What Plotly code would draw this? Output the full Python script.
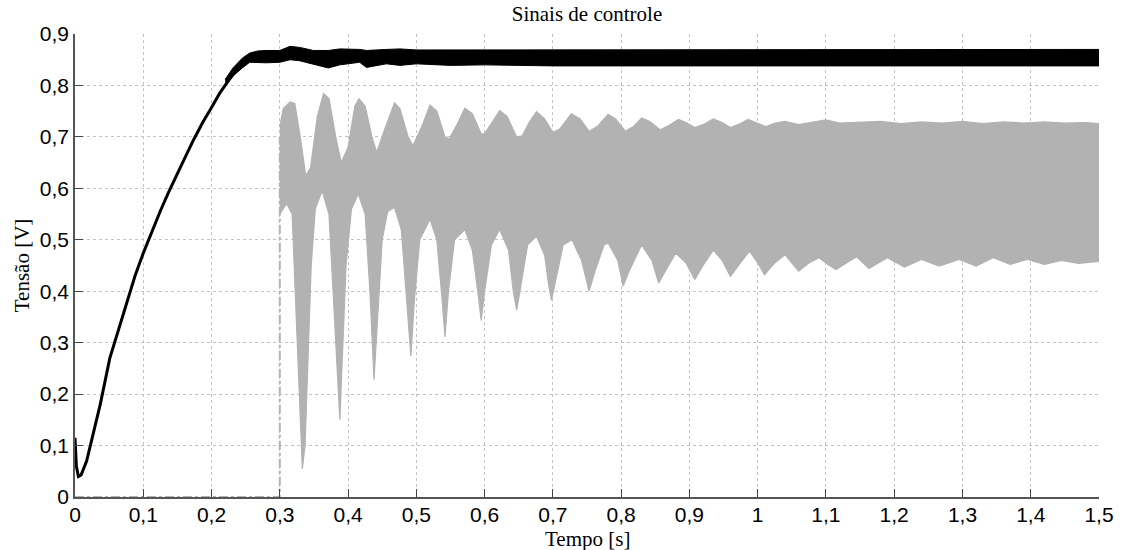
import plotly.graph_objects as go

# ---------------- data ----------------
# black control signal: initial rise (thin line)
t_black_rise = [0.0, 0.002, 0.005, 0.009, 0.017, 0.027, 0.037, 0.051, 0.064, 0.076, 0.088, 0.100,
                0.113, 0.125, 0.137, 0.149, 0.162, 0.174, 0.187, 0.200, 0.212, 0.223, 0.233, 0.242]
y_black_rise = [0.115, 0.06, 0.040, 0.043, 0.070, 0.125, 0.180, 0.270, 0.325, 0.380, 0.430, 0.474,
                0.518, 0.556, 0.592, 0.627, 0.662, 0.695, 0.728, 0.757, 0.785, 0.806, 0.824, 0.836]

# black control signal: high-frequency band (upper / lower envelope)
t_black_band = [0.220, 0.232, 0.245, 0.256, 0.268, 0.280, 0.300, 0.315, 0.329, 0.349, 0.371, 0.388,
                0.417, 0.427, 0.456, 0.476, 0.500, 0.550, 0.600, 0.700, 0.800, 0.900, 1.000,
                1.100, 1.200, 1.300, 1.400, 1.500]
y_black_up = [0.812, 0.835, 0.853, 0.863, 0.867, 0.868, 0.868, 0.876, 0.874, 0.868, 0.868, 0.871,
              0.870, 0.868, 0.870, 0.871, 0.869, 0.869, 0.870, 0.870, 0.870, 0.870, 0.870,
              0.870, 0.870, 0.870, 0.870, 0.870]
y_black_lo = [0.800, 0.819, 0.834, 0.845, 0.845, 0.844, 0.845, 0.850, 0.848, 0.842, 0.834, 0.840,
              0.845, 0.835, 0.842, 0.839, 0.842, 0.839, 0.840, 0.838, 0.838, 0.838, 0.838,
              0.838, 0.838, 0.838, 0.838, 0.838]

# grey control signal: zero before the switch-on, then a jump
t_grey_pre = [0.0, 0.300, 0.300]
y_grey_pre = [0.0, 0.0, 0.70]

# grey control signal: high-frequency band, upper envelope
t_grey_up = [0.300, 0.305, 0.315, 0.322, 0.330, 0.338, 0.345, 0.355, 0.364, 0.372, 0.382, 0.390,
             0.400, 0.410, 0.416, 0.425, 0.435, 0.442, 0.455, 0.468, 0.476, 0.488, 0.495, 0.508,
             0.520, 0.530, 0.542, 0.548, 0.560, 0.571, 0.582, 0.595, 0.600, 0.612, 0.622, 0.633,
             0.647, 0.655, 0.666, 0.676, 0.688, 0.700, 0.710, 0.727, 0.740, 0.753, 0.765, 0.781,
             0.792, 0.806, 0.818, 0.830, 0.842, 0.857, 0.870, 0.884, 0.895, 0.908, 0.922, 0.935,
             0.948, 0.960, 0.975, 0.986, 1.000, 1.012, 1.026, 1.040, 1.060, 1.080, 1.100, 1.120,
             1.150, 1.180, 1.210, 1.240, 1.270, 1.300, 1.330, 1.360, 1.390, 1.420, 1.450, 1.480, 1.500]
y_grey_up = [0.720, 0.755, 0.768, 0.765, 0.700, 0.625, 0.640, 0.740, 0.784, 0.775, 0.700, 0.650,
             0.680, 0.760, 0.774, 0.760, 0.700, 0.670, 0.720, 0.766, 0.755, 0.700, 0.683, 0.720,
             0.762, 0.750, 0.700, 0.696, 0.725, 0.756, 0.745, 0.706, 0.706, 0.730, 0.751, 0.740,
             0.700, 0.702, 0.730, 0.749, 0.735, 0.709, 0.715, 0.745, 0.735, 0.711, 0.720, 0.744,
             0.735, 0.711, 0.720, 0.737, 0.730, 0.714, 0.722, 0.734, 0.728, 0.718, 0.725, 0.735,
             0.728, 0.718, 0.726, 0.734, 0.726, 0.720, 0.727, 0.730, 0.724, 0.728, 0.733, 0.727,
             0.728, 0.730, 0.726, 0.729, 0.727, 0.730, 0.726, 0.729, 0.727, 0.729, 0.727, 0.728, 0.726]

# grey control signal: high-frequency band, lower envelope
t_grey_lo = [0.300, 0.310, 0.318, 0.322, 0.328, 0.333, 0.337, 0.342, 0.346, 0.352, 0.362, 0.372,
             0.378, 0.384, 0.388, 0.392, 0.397, 0.405, 0.415, 0.425, 0.432, 0.438, 0.443, 0.450,
             0.458, 0.468, 0.478, 0.486, 0.492, 0.497, 0.505, 0.520, 0.530, 0.538, 0.542, 0.547,
             0.556, 0.571, 0.582, 0.590, 0.595, 0.600, 0.610, 0.622, 0.635, 0.642, 0.647, 0.653,
             0.663, 0.676, 0.688, 0.694, 0.698, 0.704, 0.715, 0.728, 0.742, 0.753, 0.762, 0.775,
             0.781, 0.795, 0.803, 0.812, 0.830, 0.845, 0.855, 0.865, 0.880, 0.895, 0.908, 0.920,
             0.935, 0.948, 0.960, 0.972, 0.988, 1.000, 1.010, 1.025, 1.040, 1.050, 1.060, 1.075,
             1.090, 1.105, 1.115, 1.130, 1.145, 1.163, 1.190, 1.215, 1.240, 1.266, 1.295, 1.320,
             1.345, 1.370, 1.395, 1.420, 1.445, 1.470, 1.500]
y_grey_lo = [0.550, 0.570, 0.550, 0.400, 0.220, 0.055, 0.100, 0.300, 0.450, 0.560, 0.595, 0.550,
             0.400, 0.250, 0.150, 0.300, 0.450, 0.560, 0.589, 0.550, 0.400, 0.228, 0.350, 0.500,
             0.555, 0.563, 0.520, 0.380, 0.274, 0.380, 0.500, 0.540, 0.500, 0.380, 0.311, 0.400,
             0.500, 0.520, 0.480, 0.400, 0.343, 0.400, 0.490, 0.520, 0.480, 0.400, 0.363, 0.410,
             0.490, 0.507, 0.470, 0.410, 0.382, 0.420, 0.490, 0.500, 0.460, 0.400, 0.440, 0.490,
             0.494, 0.460, 0.410, 0.440, 0.490, 0.460, 0.416, 0.440, 0.474, 0.455, 0.423, 0.450,
             0.480, 0.460, 0.429, 0.450, 0.478, 0.455, 0.432, 0.455, 0.471, 0.455, 0.439, 0.455,
             0.465, 0.450, 0.442, 0.455, 0.467, 0.444, 0.465, 0.447, 0.462, 0.449, 0.462, 0.449,
             0.465, 0.452, 0.462, 0.452, 0.460, 0.454, 0.458]

# axes ticks
x_tickvals = [0.0, 0.1, 0.2, 0.3, 0.4, 0.5, 0.6, 0.7, 0.8, 0.9, 1.0, 1.1, 1.2, 1.3, 1.4, 1.5]
x_ticktext = ["0", "0,1", "0,2", "0,3", "0,4", "0,5", "0,6", "0,7", "0,8", "0,9",
              "1", "1,1", "1,2", "1,3", "1,4", "1,5"]
y_tickvals = [0.0, 0.1, 0.2, 0.3, 0.4, 0.5, 0.6, 0.7, 0.8, 0.9]
y_ticktext = ["0", "0,1", "0,2", "0,3", "0,4", "0,5", "0,6", "0,7", "0,8", "0,9"]

title_text = "Sinais de controle"
x_title = "Tempo [s]"
y_title = "Tensão [V]"

# ---------------- figure ----------------
GREY = "#b2b2b2"
SERIF = "Liberation Serif, Times New Roman, serif"
SANS = "Liberation Sans, Arial, sans-serif"
fig = go.Figure()

# grey band (polygon: upper envelope forward, lower envelope backwards)
fig.add_trace(go.Scatter(
    x=t_grey_up + t_grey_lo[::-1],
    y=y_grey_up + y_grey_lo[::-1],
    mode="lines", fill="toself", fillcolor=GREY,
    line=dict(color=GREY, width=1.2), hoverinfo="skip", showlegend=False))
fig.add_trace(go.Scatter(
    x=t_grey_pre, y=y_grey_pre, mode="lines",
    line=dict(color=GREY, width=2, dash="dashdot"), showlegend=False))

# black signal
fig.add_trace(go.Scatter(
    x=t_black_band + t_black_band[::-1],
    y=y_black_up + y_black_lo[::-1],
    mode="lines", fill="toself", fillcolor="#000000",
    line=dict(color="#000000", width=1), hoverinfo="skip", showlegend=False))
fig.add_trace(go.Scatter(
    x=t_black_rise, y=y_black_rise, mode="lines",
    line=dict(color="#000000", width=3), showlegend=False))

axis_common = dict(
    showline=True, linecolor="#555555", linewidth=1.5,
    ticks="inside", ticklen=8, tickcolor="#444444", tickwidth=1.2,
    showgrid=True, gridcolor="#c4c4c4", griddash="dot", gridwidth=1,
    zeroline=False, mirror=False,
    tickfont=dict(family=SANS, size=21, color="#000000"),
)

fig.update_xaxes(range=[0, 1.5], tickmode="array", tickvals=x_tickvals, ticktext=x_ticktext,
                 ticklabelstandoff=-2, **axis_common)
fig.update_yaxes(range=[0, 0.9], tickmode="array", tickvals=y_tickvals, ticktext=y_ticktext,
                 title=dict(text=y_title, standoff=4,
                            font=dict(family=SERIF, size=21, color="#000000")),
                 **axis_common)

fig.add_annotation(text=x_title, xref="paper", yref="paper", x=0.5, y=-(539 - 497) / 463,
                   xanchor="center", yanchor="middle", showarrow=False,
                   font=dict(family=SERIF, size=21, color="#000000"))

fig.update_layout(
    width=1123, height=550,
    margin=dict(l=75, r=24, t=34, b=53, autoexpand=False),
    paper_bgcolor="white", plot_bgcolor="white",
    title=dict(text=title_text, x=0.5, xref="paper", xanchor="center",
               y=1 - 14 / 550, yref="container", yanchor="middle",
               font=dict(family=SERIF, size=21, color="#000000")),
)

fig.write_html("out.html")
